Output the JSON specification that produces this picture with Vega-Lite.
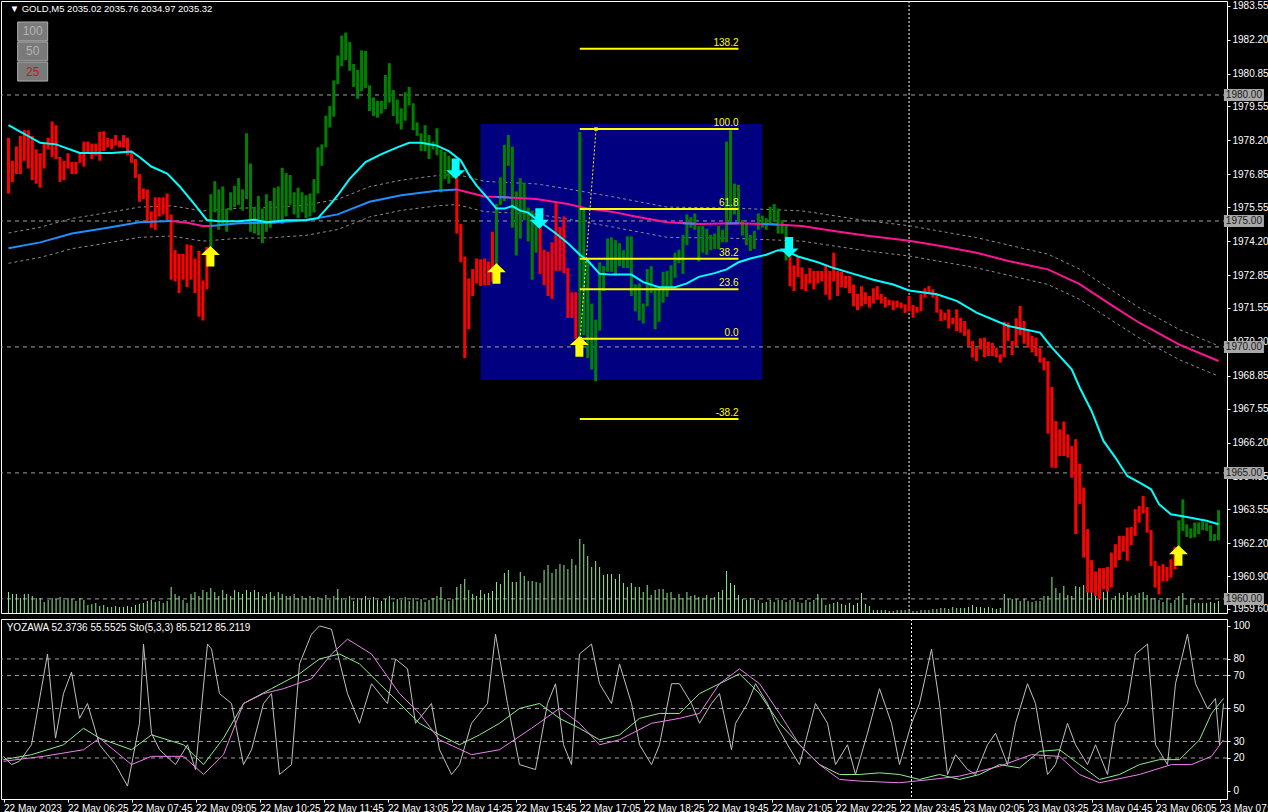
{
"$schema":"https://vega.github.io/schema/vega-lite/v6.json",
"background":"#000000",
"padding":0,
"spacing":3,
"config":{"view":{"stroke":"#ffffff","strokeWidth":1},"text":{"font":"Liberation Sans"},"axis":{"labelFont":"Liberation Sans"}},
"datasets":{
"box":[{"x1":119,"x2":190,"p1":1968.69,"p2":1978.85}],
"levels":[{"p":1980},{"p":1975},{"p":1970},{"p":1965},{"p":1960}],
"fib":[{"lv":"138.2","p":1981.83},{"lv":"100.0","p":1978.65},{"lv":"61.8","p":1975.47},{"lv":"38.2","p":1973.50},{"lv":"23.6","p":1972.29},{"lv":"0.0","p":1970.32},{"lv":"-38.2","p":1967.14}],
"fibline":[{"i":144.1,"p":1970.32},{"i":148.1,"p":1978.65}],
"arrows":[{"d":"up","i":50.9,"p":1973.59},{"d":"up","i":123,"p":1972.90},{"d":"up","i":143.9,"p":1970.01},{"d":"up","i":294.9,"p":1961.71},{"d":"dn","i":112.7,"p":1977.08},{"d":"dn","i":133.8,"p":1975.11},{"d":"dn","i":196.75,"p":1973.97}],
"bars":[
{"i":0,"c":"r","l":1976.09,"h":1978.30,"v":210},{"i":1,"c":"r","l":1976.55,"h":1977.39,"v":190},{"i":2,"c":"r","l":1976.86,"h":1977.96,"v":190},{"i":3,"c":"r","l":1976.86,"h":1978.38,"v":150},{"i":4,"c":"r","l":1977.39,"h":1978.60,"v":190},{"i":5,"c":"r","l":1977.08,"h":1978.60,"v":190},{"i":6,"c":"r","l":1976.63,"h":1978.38,"v":170},{"i":7,"c":"r","l":1976.48,"h":1977.84,"v":150},{"i":8,"c":"r","l":1976.32,"h":1977.69,"v":150},{"i":9,"c":"r","l":1977.08,"h":1978.07,"v":110},
{"i":10,"c":"r","l":1977.84,"h":1978.30,"v":130},{"i":11,"c":"r","l":1977.54,"h":1978.95,"v":150},{"i":12,"c":"r","l":1977.46,"h":1978.80,"v":140},{"i":13,"c":"r","l":1976.55,"h":1977.54,"v":160},{"i":14,"c":"r","l":1976.63,"h":1977.39,"v":130},{"i":15,"c":"r","l":1977.08,"h":1977.69,"v":150},{"i":16,"c":"r","l":1976.86,"h":1977.34,"v":140},{"i":17,"c":"r","l":1976.86,"h":1977.34,"v":120},{"i":18,"c":"r","l":1977.31,"h":1977.69,"v":150},{"i":19,"c":"r","l":1977.16,"h":1978.15,"v":130},
{"i":20,"c":"r","l":1977.69,"h":1978.15,"v":80},{"i":21,"c":"r","l":1977.46,"h":1978.07,"v":90},{"i":22,"c":"r","l":1977.61,"h":1978.07,"v":100},{"i":23,"c":"r","l":1977.39,"h":1978.53,"v":70},{"i":24,"c":"r","l":1977.77,"h":1978.56,"v":80},{"i":25,"c":"r","l":1977.92,"h":1978.30,"v":60},{"i":26,"c":"r","l":1977.84,"h":1978.26,"v":60},{"i":27,"c":"r","l":1977.99,"h":1978.41,"v":70},{"i":28,"c":"r","l":1977.92,"h":1978.19,"v":60},{"i":29,"c":"r","l":1977.92,"h":1978.41,"v":60},
{"i":30,"c":"r","l":1977.61,"h":1978.30,"v":70},{"i":31,"c":"r","l":1977.31,"h":1977.77,"v":60},{"i":32,"c":"r","l":1976.70,"h":1977.46,"v":80},{"i":33,"c":"r","l":1975.76,"h":1976.86,"v":90},{"i":34,"c":"r","l":1975.87,"h":1976.29,"v":100},{"i":35,"c":"r","l":1974.95,"h":1976.25,"v":120},{"i":36,"c":"r","l":1974.73,"h":1975.38,"v":130},{"i":37,"c":"r","l":1974.65,"h":1975.94,"v":110},{"i":38,"c":"r","l":1975.18,"h":1975.94,"v":120},{"i":39,"c":"r","l":1975.26,"h":1975.94,"v":100},
{"i":40,"c":"r","l":1975.03,"h":1976.09,"v":120},{"i":41,"c":"r","l":1972.67,"h":1975.26,"v":260},{"i":42,"c":"r","l":1972.60,"h":1973.84,"v":190},{"i":43,"c":"r","l":1972.14,"h":1973.69,"v":170},{"i":44,"c":"r","l":1972.67,"h":1973.69,"v":130},{"i":45,"c":"r","l":1972.37,"h":1974.07,"v":100},{"i":46,"c":"r","l":1972.67,"h":1974.04,"v":190},{"i":47,"c":"r","l":1972.14,"h":1973.51,"v":210},{"i":48,"c":"r","l":1971.20,"h":1973.81,"v":170},{"i":49,"c":"r","l":1971.05,"h":1972.64,"v":230},
{"i":50,"c":"r","l":1972.29,"h":1973.97,"v":210},{"i":51,"c":"g","l":1973.97,"h":1976.06,"v":250},{"i":52,"c":"g","l":1975.34,"h":1976.58,"v":210},{"i":53,"c":"g","l":1974.65,"h":1976.25,"v":170},{"i":54,"c":"g","l":1974.88,"h":1976.37,"v":230},{"i":55,"c":"g","l":1974.57,"h":1975.49,"v":190},{"i":56,"c":"g","l":1975.41,"h":1976.14,"v":170},{"i":57,"c":"g","l":1975.56,"h":1976.40,"v":230},{"i":58,"c":"g","l":1975.64,"h":1976.70,"v":210},{"i":59,"c":"g","l":1975.41,"h":1976.25,"v":190},
{"i":60,"c":"g","l":1975.87,"h":1978.48,"v":230},{"i":61,"c":"g","l":1974.57,"h":1977.28,"v":210},{"i":62,"c":"g","l":1974.50,"h":1975.56,"v":230},{"i":63,"c":"g","l":1974.42,"h":1975.99,"v":210},{"i":64,"c":"g","l":1974.12,"h":1975.49,"v":170},{"i":65,"c":"g","l":1974.57,"h":1976.06,"v":190},{"i":66,"c":"g","l":1974.73,"h":1975.79,"v":210},{"i":67,"c":"g","l":1974.88,"h":1976.32,"v":170},{"i":68,"c":"g","l":1974.95,"h":1976.37,"v":210},{"i":69,"c":"g","l":1974.88,"h":1977.11,"v":190},
{"i":70,"c":"g","l":1975.18,"h":1976.90,"v":170},{"i":71,"c":"g","l":1975.64,"h":1976.82,"v":170},{"i":72,"c":"g","l":1975.26,"h":1976.14,"v":190},{"i":73,"c":"g","l":1975.11,"h":1976.32,"v":150},{"i":74,"c":"g","l":1975.34,"h":1976.14,"v":170},{"i":75,"c":"g","l":1975.11,"h":1976.02,"v":150},{"i":76,"c":"g","l":1975.18,"h":1976.09,"v":170},{"i":77,"c":"g","l":1975.34,"h":1976.66,"v":150},{"i":78,"c":"g","l":1976.09,"h":1977.92,"v":160},{"i":79,"c":"g","l":1977.19,"h":1978.04,"v":140},
{"i":80,"c":"g","l":1977.92,"h":1979.18,"v":180},{"i":81,"c":"g","l":1978.71,"h":1979.56,"v":130},{"i":82,"c":"g","l":1979.14,"h":1980.58,"v":170},{"i":83,"c":"g","l":1980.43,"h":1981.57,"v":240},{"i":84,"c":"g","l":1981.14,"h":1982.36,"v":150},{"i":85,"c":"g","l":1981.39,"h":1982.48,"v":130},{"i":86,"c":"g","l":1980.96,"h":1982.10,"v":170},{"i":87,"c":"g","l":1980.32,"h":1981.23,"v":120},{"i":88,"c":"g","l":1979.85,"h":1980.99,"v":150},{"i":89,"c":"g","l":1980.15,"h":1981.77,"v":140},
{"i":90,"c":"g","l":1980.28,"h":1981.75,"v":170},{"i":91,"c":"g","l":1979.36,"h":1980.38,"v":130},{"i":92,"c":"g","l":1979.17,"h":1979.90,"v":160},{"i":93,"c":"g","l":1979.10,"h":1979.77,"v":130},{"i":94,"c":"g","l":1979.26,"h":1979.77,"v":120},{"i":95,"c":"g","l":1979.44,"h":1980.79,"v":140},{"i":96,"c":"g","l":1979.70,"h":1981.26,"v":170},{"i":97,"c":"g","l":1979.17,"h":1980.20,"v":110},{"i":98,"c":"g","l":1978.86,"h":1979.82,"v":140},{"i":99,"c":"g","l":1978.63,"h":1979.47,"v":130},
{"i":100,"c":"g","l":1978.98,"h":1980.11,"v":160},{"i":101,"c":"g","l":1979.59,"h":1980.32,"v":120},{"i":102,"c":"g","l":1978.60,"h":1979.67,"v":150},{"i":103,"c":"g","l":1978.38,"h":1978.91,"v":120},{"i":104,"c":"g","l":1977.77,"h":1978.48,"v":140},{"i":105,"c":"g","l":1977.77,"h":1978.80,"v":110},{"i":106,"c":"g","l":1977.46,"h":1978.41,"v":130},{"i":107,"c":"g","l":1977.84,"h":1978.15,"v":150},{"i":108,"c":"g","l":1977.61,"h":1978.68,"v":170},{"i":109,"c":"g","l":1976.13,"h":1977.84,"v":260},
{"i":110,"c":"g","l":1976.67,"h":1977.74,"v":140},{"i":111,"c":"g","l":1976.48,"h":1977.59,"v":120},{"i":112,"c":"g","l":1976.70,"h":1977.08,"v":140},{"i":113,"c":"r","l":1974.50,"h":1976.78,"v":260},{"i":114,"c":"r","l":1973.36,"h":1974.88,"v":290},{"i":115,"c":"r","l":1969.56,"h":1973.59,"v":340},{"i":116,"c":"r","l":1970.70,"h":1972.72,"v":230},{"i":117,"c":"r","l":1972.02,"h":1973.09,"v":190},{"i":118,"c":"r","l":1972.52,"h":1973.51,"v":170},{"i":119,"c":"r","l":1972.42,"h":1973.48,"v":230},
{"i":120,"c":"r","l":1972.45,"h":1973.51,"v":190},{"i":121,"c":"r","l":1972.45,"h":1973.39,"v":200},{"i":122,"c":"r","l":1972.60,"h":1974.57,"v":220},{"i":123,"c":"g","l":1973.20,"h":1975.67,"v":310},{"i":124,"c":"g","l":1975.64,"h":1976.73,"v":290},{"i":125,"c":"g","l":1975.79,"h":1978.02,"v":400},{"i":126,"c":"g","l":1977.19,"h":1978.41,"v":430},{"i":127,"c":"g","l":1974.73,"h":1977.95,"v":310},{"i":128,"c":"g","l":1973.63,"h":1976.17,"v":310},{"i":129,"c":"g","l":1974.30,"h":1976.70,"v":410},
{"i":130,"c":"g","l":1975.03,"h":1976.51,"v":370},{"i":131,"c":"g","l":1974.19,"h":1975.53,"v":320},{"i":132,"c":"g","l":1972.67,"h":1975.41,"v":320},{"i":133,"c":"g","l":1973.74,"h":1975.18,"v":310},{"i":134,"c":"r","l":1972.90,"h":1974.88,"v":300},{"i":135,"c":"r","l":1972.45,"h":1973.86,"v":430},{"i":136,"c":"r","l":1972.02,"h":1973.78,"v":480},{"i":137,"c":"r","l":1971.91,"h":1974.15,"v":400},{"i":138,"c":"r","l":1973.02,"h":1975.76,"v":440},{"i":139,"c":"r","l":1973.02,"h":1974.76,"v":490},
{"i":140,"c":"r","l":1972.93,"h":1975.18,"v":480},{"i":141,"c":"r","l":1971.15,"h":1973.13,"v":440},{"i":142,"c":"r","l":1971.15,"h":1972.17,"v":540},{"i":143,"c":"r","l":1970.32,"h":1972.17,"v":480},{"i":144,"c":"g","l":1970.32,"h":1978.53,"v":740},{"i":145,"c":"g","l":1970.47,"h":1975.49,"v":690},{"i":146,"c":"g","l":1969.56,"h":1973.51,"v":570},{"i":147,"c":"g","l":1969.10,"h":1971.72,"v":460},{"i":148,"c":"g","l":1968.64,"h":1971.08,"v":520},{"i":149,"c":"g","l":1970.65,"h":1973.36,"v":460},
{"i":150,"c":"g","l":1972.22,"h":1973.21,"v":380},{"i":151,"c":"g","l":1972.98,"h":1974.30,"v":390},{"i":152,"c":"g","l":1972.98,"h":1974.35,"v":390},{"i":153,"c":"g","l":1972.83,"h":1974.24,"v":340},{"i":154,"c":"g","l":1973.21,"h":1974.12,"v":390},{"i":155,"c":"g","l":1973.13,"h":1973.84,"v":300},{"i":156,"c":"g","l":1973.13,"h":1974.39,"v":260},{"i":157,"c":"g","l":1972.02,"h":1974.39,"v":300},{"i":158,"c":"g","l":1971.41,"h":1972.48,"v":260},{"i":159,"c":"g","l":1971.05,"h":1972.52,"v":260},
{"i":160,"c":"g","l":1970.93,"h":1971.72,"v":210},{"i":161,"c":"g","l":1971.61,"h":1973.09,"v":280},{"i":162,"c":"g","l":1972.14,"h":1973.21,"v":180},{"i":163,"c":"g","l":1970.70,"h":1972.37,"v":230},{"i":164,"c":"g","l":1971.00,"h":1972.29,"v":240},{"i":165,"c":"g","l":1971.76,"h":1972.98,"v":240},{"i":166,"c":"g","l":1971.99,"h":1973.02,"v":200},{"i":167,"c":"g","l":1972.37,"h":1973.24,"v":210},{"i":168,"c":"g","l":1972.75,"h":1973.74,"v":150},{"i":169,"c":"g","l":1973.33,"h":1973.86,"v":190},
{"i":170,"c":"g","l":1972.90,"h":1974.45,"v":150},{"i":171,"c":"g","l":1974.04,"h":1975.26,"v":210},{"i":172,"c":"g","l":1974.73,"h":1975.15,"v":170},{"i":173,"c":"g","l":1974.65,"h":1975.30,"v":180},{"i":174,"c":"g","l":1973.39,"h":1974.80,"v":160},{"i":175,"c":"g","l":1973.74,"h":1974.80,"v":150},{"i":176,"c":"g","l":1973.66,"h":1974.69,"v":180},{"i":177,"c":"g","l":1973.84,"h":1974.45,"v":150},{"i":178,"c":"g","l":1973.89,"h":1974.50,"v":160},{"i":179,"c":"g","l":1973.89,"h":1974.80,"v":210},
{"i":180,"c":"g","l":1974.15,"h":1974.65,"v":230},{"i":181,"c":"g","l":1974.15,"h":1978.15,"v":420},{"i":182,"c":"g","l":1974.95,"h":1978.60,"v":300},{"i":183,"c":"g","l":1975.26,"h":1976.48,"v":280},{"i":184,"c":"g","l":1974.88,"h":1976.43,"v":180},{"i":185,"c":"g","l":1974.42,"h":1975.03,"v":140},{"i":186,"c":"g","l":1974.04,"h":1974.88,"v":130},{"i":187,"c":"g","l":1973.81,"h":1974.45,"v":150},{"i":188,"c":"g","l":1973.89,"h":1974.61,"v":130},{"i":189,"c":"g","l":1974.65,"h":1975.30,"v":130},
{"i":190,"c":"g","l":1974.73,"h":1975.21,"v":100},{"i":191,"c":"g","l":1974.65,"h":1975.11,"v":110},{"i":192,"c":"g","l":1974.88,"h":1975.56,"v":130},{"i":193,"c":"g","l":1974.95,"h":1975.67,"v":110},{"i":194,"c":"g","l":1974.50,"h":1975.49,"v":130},{"i":195,"c":"g","l":1974.50,"h":1975.03,"v":130},{"i":196,"c":"g","l":1973.43,"h":1974.88,"v":110},{"i":197,"c":"r","l":1972.41,"h":1973.59,"v":130},{"i":198,"c":"r","l":1972.22,"h":1973.24,"v":130},{"i":199,"c":"r","l":1972.78,"h":1973.59,"v":110},
{"i":200,"c":"r","l":1972.29,"h":1973.16,"v":100},{"i":201,"c":"r","l":1972.22,"h":1972.90,"v":130},{"i":202,"c":"r","l":1972.52,"h":1973.13,"v":110},{"i":203,"c":"r","l":1972.29,"h":1973.02,"v":130},{"i":204,"c":"r","l":1972.52,"h":1973.02,"v":190},{"i":205,"c":"r","l":1972.60,"h":1973.02,"v":150},{"i":206,"c":"r","l":1972.07,"h":1973.21,"v":80},{"i":207,"c":"r","l":1971.87,"h":1973.02,"v":90},{"i":208,"c":"r","l":1972.60,"h":1973.74,"v":100},{"i":209,"c":"r","l":1972.02,"h":1973.02,"v":110},
{"i":210,"c":"r","l":1972.37,"h":1972.98,"v":90},{"i":211,"c":"r","l":1972.33,"h":1972.83,"v":80},{"i":212,"c":"r","l":1972.14,"h":1972.83,"v":100},{"i":213,"c":"r","l":1971.61,"h":1972.48,"v":80},{"i":214,"c":"r","l":1971.46,"h":1972.11,"v":100},{"i":215,"c":"r","l":1971.61,"h":1972.41,"v":200},{"i":216,"c":"r","l":1971.69,"h":1972.17,"v":90},{"i":217,"c":"r","l":1971.56,"h":1972.02,"v":70},{"i":218,"c":"r","l":1971.72,"h":1972.33,"v":30},{"i":219,"c":"r","l":1971.87,"h":1972.41,"v":30},
{"i":220,"c":"r","l":1971.72,"h":1972.11,"v":30},{"i":221,"c":"r","l":1971.56,"h":1971.99,"v":30},{"i":222,"c":"r","l":1971.66,"h":1971.87,"v":20},{"i":223,"c":"r","l":1971.46,"h":1971.84,"v":20},{"i":224,"c":"r","l":1971.56,"h":1971.84,"v":30},{"i":225,"c":"r","l":1971.53,"h":1971.76,"v":30},{"i":226,"c":"r","l":1971.35,"h":1971.69,"v":30},{"i":227,"c":"r","l":1971.43,"h":1972.02,"v":20},{"i":228,"c":"r","l":1971.16,"h":1971.67,"v":20},{"i":229,"c":"r","l":1971.36,"h":1971.59,"v":20},
{"i":230,"c":"r","l":1971.43,"h":1972.09,"v":30},{"i":231,"c":"r","l":1971.96,"h":1972.33,"v":30},{"i":232,"c":"r","l":1972.09,"h":1972.42,"v":30},{"i":233,"c":"r","l":1971.96,"h":1972.29,"v":40},{"i":234,"c":"r","l":1971.36,"h":1972.09,"v":40},{"i":235,"c":"r","l":1971.03,"h":1971.49,"v":50},{"i":236,"c":"r","l":1971.06,"h":1971.36,"v":50},{"i":237,"c":"r","l":1970.73,"h":1971.49,"v":40},{"i":238,"c":"r","l":1970.90,"h":1971.16,"v":60},{"i":239,"c":"r","l":1970.63,"h":1971.49,"v":50},
{"i":240,"c":"r","l":1970.57,"h":1971.16,"v":50},{"i":241,"c":"r","l":1970.44,"h":1971.03,"v":50},{"i":242,"c":"r","l":1970.04,"h":1970.70,"v":60},{"i":243,"c":"r","l":1969.58,"h":1970.24,"v":80},{"i":244,"c":"r","l":1969.44,"h":1969.97,"v":60},{"i":245,"c":"r","l":1969.91,"h":1970.34,"v":60},{"i":246,"c":"r","l":1969.60,"h":1970.37,"v":50},{"i":247,"c":"r","l":1969.64,"h":1970.21,"v":60},{"i":248,"c":"r","l":1969.64,"h":1970.17,"v":50},{"i":249,"c":"r","l":1969.58,"h":1969.97,"v":40},
{"i":250,"c":"r","l":1969.38,"h":1969.71,"v":50},{"i":251,"c":"r","l":1969.58,"h":1971.00,"v":190},{"i":252,"c":"r","l":1970.24,"h":1970.97,"v":140},{"i":253,"c":"r","l":1969.68,"h":1970.24,"v":140},{"i":254,"c":"r","l":1970.04,"h":1971.14,"v":140},{"i":255,"c":"r","l":1970.48,"h":1971.63,"v":120},{"i":256,"c":"r","l":1970.13,"h":1971.03,"v":140},{"i":257,"c":"r","l":1969.97,"h":1970.70,"v":120},{"i":258,"c":"r","l":1969.78,"h":1970.44,"v":110},{"i":259,"c":"r","l":1969.64,"h":1970.37,"v":120},
{"i":260,"c":"r","l":1969.38,"h":1969.95,"v":120},{"i":261,"c":"r","l":1969.07,"h":1969.58,"v":170},{"i":262,"c":"r","l":1966.56,"h":1969.44,"v":170},{"i":263,"c":"r","l":1965.21,"h":1968.41,"v":360},{"i":264,"c":"r","l":1965.19,"h":1967.06,"v":250},{"i":265,"c":"r","l":1965.67,"h":1966.73,"v":200},{"i":266,"c":"r","l":1965.67,"h":1967.04,"v":270},{"i":267,"c":"r","l":1965.61,"h":1966.53,"v":180},{"i":268,"c":"r","l":1964.81,"h":1966.07,"v":170},{"i":269,"c":"r","l":1962.57,"h":1966.34,"v":270},
{"i":270,"c":"r","l":1963.76,"h":1965.37,"v":260},{"i":271,"c":"r","l":1961.64,"h":1964.42,"v":280},{"i":272,"c":"r","l":1960.25,"h":1962.77,"v":300},{"i":273,"c":"r","l":1960.25,"h":1961.54,"v":280},{"i":274,"c":"r","l":1960.12,"h":1961.09,"v":300},{"i":275,"c":"r","l":1959.99,"h":1961.22,"v":280},{"i":276,"c":"r","l":1960.38,"h":1961.22,"v":210},{"i":277,"c":"r","l":1960.29,"h":1961.27,"v":260},{"i":278,"c":"r","l":1960.45,"h":1961.84,"v":130},{"i":279,"c":"r","l":1961.24,"h":1962.17,"v":170},
{"i":280,"c":"r","l":1961.54,"h":1962.50,"v":200},{"i":281,"c":"r","l":1961.88,"h":1962.50,"v":180},{"i":282,"c":"r","l":1961.51,"h":1962.83,"v":210},{"i":283,"c":"r","l":1962.14,"h":1962.86,"v":170},{"i":284,"c":"r","l":1962.50,"h":1963.56,"v":180},{"i":285,"c":"r","l":1963.03,"h":1963.69,"v":200},{"i":286,"c":"r","l":1963.39,"h":1964.09,"v":210},{"i":287,"c":"r","l":1962.63,"h":1963.65,"v":180},{"i":288,"c":"r","l":1961.31,"h":1962.73,"v":150},{"i":289,"c":"r","l":1960.45,"h":1961.51,"v":150},
{"i":290,"c":"r","l":1960.18,"h":1961.31,"v":130},{"i":291,"c":"r","l":1960.71,"h":1961.38,"v":110},{"i":292,"c":"r","l":1960.71,"h":1961.27,"v":150},{"i":293,"c":"r","l":1960.85,"h":1961.57,"v":100},{"i":294,"c":"r","l":1961.18,"h":1962.07,"v":130},{"i":295,"c":"g","l":1962.04,"h":1963.12,"v":170},{"i":296,"c":"g","l":1962.70,"h":1963.95,"v":200},{"i":297,"c":"g","l":1962.46,"h":1962.96,"v":80},{"i":298,"c":"g","l":1962.41,"h":1962.80,"v":150},{"i":299,"c":"g","l":1962.44,"h":1963.03,"v":100},
{"i":300,"c":"g","l":1962.57,"h":1963.03,"v":100},{"i":301,"c":"g","l":1962.73,"h":1963.07,"v":100},{"i":302,"c":"g","l":1962.70,"h":1963.03,"v":100},{"i":303,"c":"g","l":1962.30,"h":1962.93,"v":110},{"i":304,"c":"g","l":1962.30,"h":1962.57,"v":100},{"i":305,"c":"g","l":1962.33,"h":1963.52,"v":120}
],
"cyan":[{"i":0,"p":1978.80},{"i":8,"p":1978.10},{"i":12,"p":1978.04},{"i":18,"p":1977.70},{"i":26,"p":1977.70},{"i":31,"p":1977.76},{"i":33,"p":1977.54},{"i":36,"p":1977.16},{"i":40,"p":1976.88},{"i":43,"p":1976.40},{"i":47,"p":1975.64},{"i":50,"p":1975.04},{"i":53,"p":1974.99},{"i":58,"p":1974.99},{"i":62,"p":1975.05},{"i":65,"p":1974.95},{"i":70,"p":1975.03},{"i":75,"p":1975.04},{"i":78,"p":1975.11},{"i":81,"p":1975.64},{"i":83,"p":1976.02},{"i":86,"p":1976.67},{"i":90,"p":1977.34},{"i":94,"p":1977.65},{"i":98,"p":1977.92},{"i":101,"p":1978.10},{"i":104,"p":1978.10},{"i":108,"p":1977.99},{"i":111,"p":1977.77},{"i":114,"p":1977.40},{"i":116,"p":1976.85},{"i":118,"p":1976.40},{"i":121,"p":1975.87},{"i":123,"p":1975.49},{"i":125,"p":1975.49},{"i":127,"p":1975.59},{"i":129,"p":1975.41},{"i":131,"p":1975.33},{"i":134,"p":1974.96},{"i":138,"p":1974.50},{"i":141,"p":1974.12},{"i":144,"p":1973.66},{"i":146,"p":1973.43},{"i":149,"p":1972.90},{"i":152,"p":1972.87},{"i":157,"p":1972.87},{"i":160,"p":1972.57},{"i":164,"p":1972.37},{"i":168,"p":1972.37},{"i":171,"p":1972.52},{"i":174,"p":1972.78},{"i":178,"p":1972.93},{"i":181,"p":1973.08},{"i":184,"p":1973.36},{"i":187,"p":1973.51},{"i":191,"p":1973.66},{"i":194,"p":1973.84},{"i":196,"p":1973.81},{"i":199,"p":1973.59},{"i":204,"p":1973.36},{"i":208,"p":1973.13},{"i":213,"p":1972.90},{"i":218,"p":1972.67},{"i":223,"p":1972.48},{"i":227,"p":1972.24},{"i":234,"p":1972.09},{"i":239,"p":1971.83},{"i":244,"p":1971.36},{"i":252,"p":1970.83},{"i":260,"p":1970.57},{"i":263,"p":1969.97},{"i":268,"p":1969.11},{"i":270,"p":1968.39},{"i":273,"p":1967.46},{"i":276,"p":1966.27},{"i":279,"p":1965.61},{"i":282,"p":1964.88},{"i":285,"p":1964.62},{"i":288,"p":1964.35},{"i":290,"p":1963.76},{"i":293,"p":1963.36},{"i":297,"p":1963.25},{"i":302,"p":1963.10},{"i":305,"p":1962.96}],
"slow":[{"s":"A","c":"b","i":0,"p":1973.92},{"s":"A","c":"b","i":8,"p":1974.15},{"s":"A","c":"b","i":16,"p":1974.50},{"s":"A","c":"b","i":25,"p":1974.73},{"s":"A","c":"b","i":33,"p":1974.95},{"s":"A","c":"b","i":41,"p":1975.00},
{"s":"B","c":"p","i":41,"p":1975.00},{"s":"B","c":"p","i":45,"p":1974.93},{"s":"B","c":"p","i":49,"p":1974.80},{"s":"B","c":"p","i":51,"p":1974.80},
{"s":"C","c":"b","i":51,"p":1974.80},{"s":"C","c":"b","i":58,"p":1974.91},{"s":"C","c":"b","i":66,"p":1974.93},{"s":"C","c":"b","i":75,"p":1975.03},{"s":"C","c":"b","i":83,"p":1975.26},{"s":"C","c":"b","i":91,"p":1975.76},{"s":"C","c":"b","i":99,"p":1976.02},{"s":"C","c":"b","i":108,"p":1976.20},{"s":"C","c":"b","i":113,"p":1976.25},
{"s":"D","c":"p","i":113,"p":1976.25},{"s":"D","c":"p","i":115,"p":1976.17},{"s":"D","c":"p","i":120,"p":1975.97},{"s":"D","c":"p","i":125,"p":1975.94},{"s":"D","c":"p","i":133,"p":1975.87},{"s":"D","c":"p","i":141,"p":1975.67},{"s":"D","c":"p","i":146,"p":1975.49},{"s":"D","c":"p","i":152,"p":1975.37},{"s":"D","c":"p","i":158,"p":1975.18},{"s":"D","c":"p","i":166,"p":1974.95},{"s":"D","c":"p","i":174,"p":1974.88},{"s":"D","c":"p","i":183,"p":1974.91},{"s":"D","c":"p","i":191,"p":1974.88},{"s":"D","c":"p","i":200,"p":1974.80},{"s":"D","c":"p","i":208,"p":1974.60},{"s":"D","c":"p","i":216,"p":1974.42},{"s":"D","c":"p","i":227,"p":1974.21},{"s":"D","c":"p","i":235,"p":1974.01},{"s":"D","c":"p","i":244,"p":1973.74},{"s":"D","c":"p","i":252,"p":1973.41},{"s":"D","c":"p","i":262,"p":1973.08},{"s":"D","c":"p","i":270,"p":1972.49},{"s":"D","c":"p","i":279,"p":1971.56},{"s":"D","c":"p","i":285,"p":1970.96},{"s":"D","c":"p","i":295,"p":1970.10},{"s":"D","c":"p","i":305,"p":1969.44},
{"s":"E","c":"b","i":123,"p":1975.95},{"s":"E","c":"b","i":127,"p":1975.93},{"s":"F","c":"b","i":170,"p":1974.91},{"s":"F","c":"b","i":173,"p":1974.89},{"s":"G","c":"b","i":181,"p":1974.90},{"s":"G","c":"b","i":184,"p":1974.91},{"s":"H","c":"b","i":190,"p":1974.88},{"s":"H","c":"b","i":194,"p":1974.86}],
"env":[{"i":0,"u":1974.52,"d":1973.32},{"i":8,"u":1974.75,"d":1973.55},{"i":16,"u":1975.10,"d":1973.90},{"i":25,"u":1975.33,"d":1974.13},{"i":33,"u":1975.55,"d":1974.35},{"i":41,"u":1975.60,"d":1974.40},{"i":49,"u":1975.40,"d":1974.20},{"i":58,"u":1975.51,"d":1974.31},{"i":66,"u":1975.53,"d":1974.33},{"i":75,"u":1975.63,"d":1974.43},{"i":83,"u":1975.86,"d":1974.66},{"i":91,"u":1976.36,"d":1975.16},{"i":99,"u":1976.62,"d":1975.42},{"i":108,"u":1976.80,"d":1975.60},{"i":113,"u":1976.85,"d":1975.65},{"i":120,"u":1976.57,"d":1975.37},{"i":133,"u":1976.47,"d":1975.27},{"i":141,"u":1976.27,"d":1975.07},{"i":152,"u":1975.97,"d":1974.77},{"i":166,"u":1975.55,"d":1974.35},{"i":183,"u":1975.51,"d":1974.31},{"i":200,"u":1975.40,"d":1974.20},{"i":216,"u":1975.02,"d":1973.82},{"i":227,"u":1974.81,"d":1973.61},{"i":244,"u":1974.34,"d":1973.14},{"i":262,"u":1973.68,"d":1972.48},{"i":270,"u":1973.09,"d":1971.89},{"i":279,"u":1972.16,"d":1970.96},{"i":285,"u":1971.56,"d":1970.36},{"i":295,"u":1970.70,"d":1969.50},{"i":305,"u":1970.04,"d":1968.84}],
"osclev":[{"v":80},{"v":70},{"v":50},{"v":30},{"v":20}],
"osc":[
{"k":"s","i":0,"v":21},{"k":"s","i":2,"v":16},{"k":"s","i":4,"v":18},{"k":"s","i":7,"v":28},{"k":"s","i":11,"v":83},{"k":"s","i":13,"v":32},{"k":"s","i":15,"v":59},{"k":"s","i":17,"v":72},{"k":"s","i":19,"v":44},{"k":"s","i":21,"v":53},{"k":"s","i":24,"v":28},{"k":"s","i":28,"v":16},{"k":"s","i":31,"v":3},{"k":"s","i":34,"v":41},{"k":"s","i":35,"v":89},{"k":"s","i":37,"v":35},{"k":"s","i":39,"v":25},{"k":"s","i":43,"v":16},{"k":"s","i":46,"v":28},{"k":"s","i":48,"v":13},{"k":"s","i":51,"v":89},{"k":"s","i":52,"v":86},{"k":"s","i":54,"v":59},{"k":"s","i":57,"v":53},{"k":"s","i":60,"v":16},{"k":"s","i":62,"v":25},{"k":"s","i":65,"v":53},{"k":"s","i":67,"v":59},{"k":"s","i":69,"v":10},{"k":"s","i":72,"v":16},{"k":"s","i":74,"v":77},{"k":"s","i":77,"v":95},{"k":"s","i":79,"v":100},{"k":"s","i":82,"v":98},{"k":"s","i":86,"v":59},{"k":"s","i":89,"v":41},{"k":"s","i":92,"v":65},{"k":"s","i":96,"v":53},{"k":"s","i":98,"v":80},{"k":"s","i":101,"v":74},{"k":"s","i":103,"v":41},{"k":"s","i":107,"v":53},{"k":"s","i":109,"v":25},{"k":"s","i":112,"v":10},{"k":"s","i":114,"v":16},{"k":"s","i":117,"v":41},{"k":"s","i":121,"v":53},{"k":"s","i":123,"v":95},{"k":"s","i":126,"v":53},{"k":"s","i":129,"v":16},{"k":"s","i":133,"v":13},{"k":"s","i":136,"v":53},{"k":"s","i":138,"v":65},{"k":"s","i":140,"v":28},{"k":"s","i":142,"v":16},{"k":"s","i":144,"v":83},{"k":"s","i":147,"v":89},{"k":"s","i":149,"v":65},{"k":"s","i":152,"v":53},{"k":"s","i":154,"v":77},{"k":"s","i":157,"v":53},{"k":"s","i":159,"v":28},{"k":"s","i":162,"v":16},{"k":"s","i":164,"v":28},{"k":"s","i":167,"v":65},{"k":"s","i":169,"v":65},{"k":"s","i":172,"v":53},{"k":"s","i":174,"v":41},{"k":"s","i":177,"v":53},{"k":"s","i":179,"v":59},{"k":"s","i":182,"v":25},{"k":"s","i":183,"v":41},{"k":"s","i":186,"v":53},{"k":"s","i":188,"v":65},{"k":"s","i":191,"v":53},{"k":"s","i":193,"v":41},{"k":"s","i":196,"v":28},{"k":"s","i":199,"v":16},{"k":"s","i":203,"v":53},{"k":"s","i":206,"v":41},{"k":"s","i":208,"v":16},{"k":"s","i":211,"v":28},{"k":"s","i":213,"v":10},{"k":"s","i":216,"v":35},{"k":"s","i":219,"v":62},{"k":"s","i":222,"v":41},{"k":"s","i":224,"v":16},{"k":"s","i":227,"v":41},{"k":"s","i":229,"v":53},{"k":"s","i":232,"v":86},{"k":"s","i":234,"v":53},{"k":"s","i":236,"v":10},{"k":"s","i":238,"v":22},{"k":"s","i":241,"v":13},{"k":"s","i":243,"v":10},{"k":"s","i":246,"v":28},{"k":"s","i":248,"v":35},{"k":"s","i":251,"v":16},{"k":"s","i":253,"v":41},{"k":"s","i":256,"v":65},{"k":"s","i":258,"v":53},{"k":"s","i":261,"v":10},{"k":"s","i":263,"v":16},{"k":"s","i":266,"v":41},{"k":"s","i":268,"v":28},{"k":"s","i":271,"v":16},{"k":"s","i":273,"v":28},{"k":"s","i":276,"v":10},{"k":"s","i":278,"v":41},{"k":"s","i":281,"v":53},{"k":"s","i":283,"v":83},{"k":"s","i":286,"v":89},{"k":"s","i":288,"v":28},{"k":"s","i":291,"v":16},{"k":"s","i":293,"v":65},{"k":"s","i":296,"v":95},{"k":"s","i":298,"v":65},{"k":"s","i":301,"v":50},{"k":"s","i":303,"v":56},{"k":"s","i":304,"v":28},{"k":"s","i":305,"v":53},
{"k":"g","i":0,"v":19},{"k":"g","i":7,"v":22},{"k":"g","i":15,"v":28},{"k":"g","i":20,"v":38},{"k":"g","i":24,"v":32},{"k":"g","i":32,"v":25},{"k":"g","i":37,"v":34},{"k":"g","i":45,"v":28},{"k":"g","i":50,"v":16},{"k":"g","i":55,"v":32},{"k":"g","i":60,"v":53},{"k":"g","i":67,"v":62},{"k":"g","i":74,"v":71},{"k":"g","i":79,"v":80},{"k":"g","i":84,"v":83},{"k":"g","i":89,"v":77},{"k":"g","i":94,"v":65},{"k":"g","i":99,"v":53},{"k":"g","i":104,"v":41},{"k":"g","i":109,"v":34},{"k":"g","i":114,"v":28},{"k":"g","i":119,"v":34},{"k":"g","i":124,"v":41},{"k":"g","i":129,"v":50},{"k":"g","i":134,"v":53},{"k":"g","i":139,"v":44},{"k":"g","i":144,"v":38},{"k":"g","i":149,"v":31},{"k":"g","i":154,"v":34},{"k":"g","i":159,"v":44},{"k":"g","i":164,"v":47},{"k":"g","i":169,"v":47},{"k":"g","i":174,"v":59},{"k":"g","i":179,"v":65},{"k":"g","i":184,"v":71},{"k":"g","i":189,"v":59},{"k":"g","i":194,"v":41},{"k":"g","i":199,"v":28},{"k":"g","i":204,"v":16},{"k":"g","i":209,"v":10},{"k":"g","i":214,"v":10},{"k":"g","i":219,"v":11},{"k":"g","i":224,"v":10},{"k":"g","i":229,"v":7},{"k":"g","i":234,"v":10},{"k":"g","i":239,"v":7},{"k":"g","i":244,"v":10},{"k":"g","i":249,"v":16},{"k":"g","i":254,"v":14},{"k":"g","i":259,"v":24},{"k":"g","i":264,"v":25},{"k":"g","i":269,"v":16},{"k":"g","i":274,"v":7},{"k":"g","i":279,"v":10},{"k":"g","i":284,"v":16},{"k":"g","i":289,"v":19},{"k":"g","i":294,"v":19},{"k":"g","i":299,"v":31},{"k":"g","i":302,"v":47},{"k":"g","i":305,"v":56},
{"k":"v","i":0,"v":18},{"k":"v","i":10,"v":21},{"k":"v","i":20,"v":25},{"k":"v","i":24,"v":32},{"k":"v","i":32,"v":16},{"k":"v","i":37,"v":21},{"k":"v","i":45,"v":21},{"k":"v","i":50,"v":10},{"k":"v","i":55,"v":22},{"k":"v","i":60,"v":53},{"k":"v","i":65,"v":59},{"k":"v","i":70,"v":62},{"k":"v","i":77,"v":68},{"k":"v","i":82,"v":83},{"k":"v","i":86,"v":92},{"k":"v","i":92,"v":83},{"k":"v","i":99,"v":59},{"k":"v","i":104,"v":47},{"k":"v","i":109,"v":31},{"k":"v","i":117,"v":22},{"k":"v","i":124,"v":25},{"k":"v","i":132,"v":38},{"k":"v","i":139,"v":50},{"k":"v","i":144,"v":41},{"k":"v","i":149,"v":28},{"k":"v","i":154,"v":31},{"k":"v","i":162,"v":41},{"k":"v","i":169,"v":44},{"k":"v","i":174,"v":47},{"k":"v","i":179,"v":65},{"k":"v","i":184,"v":74},{"k":"v","i":189,"v":65},{"k":"v","i":194,"v":47},{"k":"v","i":199,"v":28},{"k":"v","i":204,"v":16},{"k":"v","i":209,"v":7},{"k":"v","i":214,"v":6},{"k":"v","i":224,"v":5},{"k":"v","i":232,"v":7},{"k":"v","i":239,"v":9},{"k":"v","i":249,"v":15},{"k":"v","i":257,"v":22},{"k":"v","i":264,"v":21},{"k":"v","i":269,"v":10},{"k":"v","i":274,"v":5},{"k":"v","i":284,"v":10},{"k":"v","i":292,"v":16},{"k":"v","i":297,"v":16},{"k":"v","i":302,"v":21},{"k":"v","i":305,"v":31}
]
},
"vconcat":[
{
"width":1226,"height":612,
"resolve":{"scale":{"y":"independent"}},
"layer":[
{"layer":[
{"data":{"name":"box"},"mark":{"type":"rect","color":"#000080"},"encoding":{"x":{"field":"x1","type":"quantitative","scale":{"domain":[-0.625,305.875],"nice":false,"zero":false},"axis":null},"x2":{"field":"x2"},"y":{"field":"p1","type":"quantitative","scale":{"domain":[1959.44,1983.73],"nice":false,"zero":false},"axis":null},"y2":{"field":"p2"}}},
{"data":{"name":"levels"},"mark":{"type":"rule","color":"#a0a0a0","strokeDash":[4,4],"strokeWidth":1},"encoding":{"y":{"field":"p","type":"quantitative","scale":{"domain":[1959.44,1983.73],"nice":false,"zero":false},"axis":null}}},
{"data":{"values":[{}]},"mark":{"type":"rule","color":"#ffffff","strokeDash":[2,2],"strokeWidth":1},"encoding":{"x":{"datum":227,"type":"quantitative","scale":{"domain":[-0.625,305.875],"nice":false,"zero":false},"axis":null}}}
]},
{"data":{"name":"bars"},"mark":{"type":"bar","width":1,"color":"#90ee90"},"encoding":{"x":{"field":"i","type":"quantitative","scale":{"domain":[-0.625,305.875],"nice":false,"zero":false},"axis":null},"y":{"field":"v","type":"quantitative","scale":{"domain":[0,6120],"nice":false,"zero":true},"axis":null},"y2":{"datum":0}}},
{"layer":[
{"data":{"name":"env"},"mark":{"type":"line","color":"#8c8c8c","strokeDash":[3,3],"strokeWidth":1},"encoding":{"x":{"field":"i","type":"quantitative","scale":{"domain":[-0.625,305.875],"nice":false,"zero":false},"axis":null},"y":{"field":"u","type":"quantitative","scale":{"domain":[1959.44,1983.73],"nice":false,"zero":false},"title":null,"axis":{"orient":"right","values":[1983.55,1982.2,1980.85,1979.55,1978.2,1976.85,1975.55,1974.2,1972.85,1971.55,1970.2,1968.85,1967.55,1966.2,1964.85,1963.55,1962.2,1960.9,1959.6],"tickCount":100,"format":".2f","tickSize":3,"labelPadding":2,"labelColor":"#ffffff","tickColor":"#ffffff","domain":false,"grid":false,"labelFont":"Liberation Sans","labelFontSize":10,"labelBound":false,"labelOverlap":false,"labelFlush":false,"title":null}}}},
{"data":{"name":"env"},"mark":{"type":"line","color":"#8c8c8c","strokeDash":[3,3],"strokeWidth":1},"encoding":{"x":{"field":"i","type":"quantitative","axis":null},"y":{"field":"d","type":"quantitative","title":null}}},
{"data":{"name":"bars"},"mark":{"type":"bar","width":3},"encoding":{"x":{"field":"i","type":"quantitative","axis":null},"y":{"field":"l","type":"quantitative","title":null},"y2":{"field":"h"},"color":{"condition":{"test":"datum.c==='r'","value":"#ff0000"},"value":"#008000"}}},
{"data":{"name":"slow"},"transform":[{"filter":"datum.c==='p'"}],"mark":{"type":"line","color":"#ff1493","strokeWidth":2},"encoding":{"x":{"field":"i","type":"quantitative","axis":null},"y":{"field":"p","type":"quantitative","title":null},"detail":{"field":"s"}}},
{"data":{"name":"slow"},"transform":[{"filter":"datum.c==='b'"}],"mark":{"type":"line","color":"#1e90ff","strokeWidth":2},"encoding":{"x":{"field":"i","type":"quantitative","axis":null},"y":{"field":"p","type":"quantitative","title":null},"detail":{"field":"s"}}},
{"data":{"name":"cyan"},"mark":{"type":"line","color":"#00ffff","strokeWidth":2},"encoding":{"x":{"field":"i","type":"quantitative","axis":null},"y":{"field":"p","type":"quantitative","title":null}}},
{"data":{"name":"fib"},"mark":{"type":"rule","color":"#ffff00","strokeWidth":2},"encoding":{"x":{"datum":144,"type":"quantitative","axis":null},"x2":{"datum":184},"y":{"field":"p","type":"quantitative","title":null}}},
{"data":{"name":"fib"},"mark":{"type":"text","color":"#ffff00","align":"right","baseline":"bottom","dy":-1,"fontSize":10},"encoding":{"x":{"datum":184,"type":"quantitative","axis":null},"y":{"field":"p","type":"quantitative","title":null},"text":{"field":"lv"}}},
{"data":{"name":"fibline"},"mark":{"type":"line","color":"#ffff00","strokeDash":[2,2],"strokeWidth":1,"point":{"color":"#ffff00","shape":"square","size":12,"filled":true,"opacity":1}},"encoding":{"x":{"field":"i","type":"quantitative","axis":null},"y":{"field":"p","type":"quantitative","title":null}}},
{"data":{"name":"arrows"},"transform":[{"filter":"datum.d==='up'"}],"mark":{"type":"point","shape":"M0,-1L0.9,-0.15L0.38,-0.15L0.38,0.95L-0.38,0.95L-0.38,-0.15L-0.9,-0.15Z","filled":true,"color":"#ffff00","size":441,"opacity":1},"encoding":{"x":{"field":"i","type":"quantitative","axis":null},"y":{"field":"p","type":"quantitative","title":null}}},
{"data":{"name":"arrows"},"transform":[{"filter":"datum.d==='dn'"}],"mark":{"type":"point","shape":"M0,1L0.9,0.15L0.38,0.15L0.38,-0.95L-0.38,-0.95L-0.38,0.15L-0.9,0.15Z","filled":true,"color":"#00ffff","size":441,"opacity":1},"encoding":{"x":{"field":"i","type":"quantitative","axis":null},"y":{"field":"p","type":"quantitative","title":null}}},
{"data":{"name":"levels"},"mark":{"type":"point","shape":"M-1,-0.3H1V0.3H-1Z","filled":true,"color":"#a8a8a8","size":1600,"opacity":1},"encoding":{"x":{"datum":311.4,"type":"quantitative","axis":null},"y":{"field":"p","type":"quantitative","title":null}}},
{"data":{"name":"levels"},"mark":{"type":"text","color":"#1a1a1a","fontSize":10,"align":"center","baseline":"middle"},"encoding":{"x":{"datum":311.4,"type":"quantitative","axis":null},"y":{"field":"p","type":"quantitative","title":null},"text":{"field":"p","type":"quantitative","format":".2f"}}},
{"data":{"values":[{}]},"mark":{"type":"text","color":"#ffffff","fontSize":9.5,"align":"left","baseline":"middle"},"encoding":{"x":{"datum":0.3,"type":"quantitative","axis":null},"y":{"datum":1983.41,"type":"quantitative","title":null},"text":{"value":"▼ GOLD,M5  2035.02 2035.76 2034.97 2035.32"}}},
{"data":{"values":[{"t":"100"}]},"mark":{"type":"point","shape":"M-1,-0.633H1V0.633H-1Z","filled":true,"color":"#7a7a7a","stroke":"#b0b0b0","strokeWidth":1,"size":900,"opacity":1},"encoding":{"x":{"datum":6.1,"type":"quantitative","axis":null},"y":{"datum":1982.52,"type":"quantitative","title":null}}},
{"data":{"values":[{"t":"50"}]},"mark":{"type":"point","shape":"M-1,-0.633H1V0.633H-1Z","filled":true,"color":"#7a7a7a","stroke":"#b0b0b0","strokeWidth":1,"size":900,"opacity":1},"encoding":{"x":{"datum":6.1,"type":"quantitative","axis":null},"y":{"datum":1981.73,"type":"quantitative","title":null}}},
{"data":{"values":[{"t":"25"}]},"mark":{"type":"point","shape":"M-1,-0.633H1V0.633H-1Z","filled":true,"color":"#7a7a7a","stroke":"#b0b0b0","strokeWidth":1,"size":900,"opacity":1},"encoding":{"x":{"datum":6.1,"type":"quantitative","axis":null},"y":{"datum":1980.93,"type":"quantitative","title":null}}},
{"data":{"values":[{"t":"100"}]},"mark":{"type":"text","color":"#b4b4b4","fontSize":12,"align":"center","baseline":"middle"},"encoding":{"x":{"datum":6.1,"type":"quantitative","axis":null},"y":{"datum":1982.52,"type":"quantitative","title":null},"text":{"field":"t"}}},
{"data":{"values":[{"t":"50"}]},"mark":{"type":"text","color":"#b4b4b4","fontSize":12,"align":"center","baseline":"middle"},"encoding":{"x":{"datum":6.1,"type":"quantitative","axis":null},"y":{"datum":1981.73,"type":"quantitative","title":null},"text":{"field":"t"}}},
{"data":{"values":[{"t":"25"}]},"mark":{"type":"text","color":"#b22222","fontSize":12,"align":"center","baseline":"middle"},"encoding":{"x":{"datum":6.1,"type":"quantitative","axis":null},"y":{"datum":1980.93,"type":"quantitative","title":null},"text":{"field":"t"}}}
]}
]
},
{
"width":1226,"height":180,
"layer":[
{"data":{"name":"osclev"},"mark":{"type":"rule","color":"#a0a0a0","strokeDash":[4,4],"strokeWidth":1},"encoding":{"y":{"field":"v","type":"quantitative","scale":{"domain":[-4.85,104.2],"nice":false,"zero":false},"title":null,"axis":{"orient":"right","values":[0,20,30,50,70,80,100],"tickCount":100,"tickSize":3,"labelPadding":3,"labelColor":"#ffffff","tickColor":"#ffffff","domain":false,"grid":false,"labelFont":"Liberation Sans","labelFontSize":10,"labelBound":false,"labelOverlap":false,"labelFlush":false,"title":null}}}},
{"data":{"values":[{}]},"mark":{"type":"rule","color":"#ffffff","strokeDash":[2,2],"strokeWidth":1},"encoding":{"x":{"datum":227,"type":"quantitative","scale":{"domain":[-0.625,305.875],"nice":false,"zero":false},"title":null,"axis":{"orient":"bottom","values":[0,16,32,48,64,80,96,112,128,144,160,176,192,208,224,240,256,272,288,304],"tickCount":100,"labelExpr":"['22 May 2023','22 May 06:25','22 May 07:45','22 May 09:05','22 May 10:25','22 May 11:45','22 May 13:05','22 May 14:25','22 May 15:45','22 May 17:05','22 May 18:25','22 May 19:45','22 May 21:05','22 May 22:25','22 May 23:45','23 May 02:05','23 May 03:25','23 May 04:45','23 May 06:05','23 May 07:25'][round(datum.value/16)]","labelAlign":"left","labelBaseline":"top","tickSize":3,"labelPadding":1,"labelColor":"#ffffff","tickColor":"#ffffff","domain":false,"grid":false,"labelFont":"Liberation Sans","labelFontSize":10,"labelBound":false,"labelOverlap":false,"labelFlush":false,"title":null}}}},
{"data":{"name":"osc"},"transform":[{"filter":"datum.k==='s'"}],"mark":{"type":"line","color":"#c0c0c0","strokeWidth":1},"encoding":{"x":{"field":"i","type":"quantitative","title":null},"y":{"field":"v","type":"quantitative","title":null}}},
{"data":{"name":"osc"},"transform":[{"filter":"datum.k==='g'"}],"mark":{"type":"line","color":"#90ee90","strokeWidth":1},"encoding":{"x":{"field":"i","type":"quantitative","title":null},"y":{"field":"v","type":"quantitative","title":null}}},
{"data":{"name":"osc"},"transform":[{"filter":"datum.k==='v'"}],"mark":{"type":"line","color":"#ee82ee","strokeWidth":1},"encoding":{"x":{"field":"i","type":"quantitative","title":null},"y":{"field":"v","type":"quantitative","title":null}}},
{"data":{"values":[{}]},"mark":{"type":"text","color":"#ffffff","fontSize":10,"align":"left","baseline":"middle"},"encoding":{"x":{"datum":0.8,"type":"quantitative","title":null},"y":{"datum":98.6,"type":"quantitative","title":null},"text":{"value":"YOZAWA 52.3736 55.5525  Sto(5,3,3) 85.5212 85.2119"}}}
]
}
]
}
